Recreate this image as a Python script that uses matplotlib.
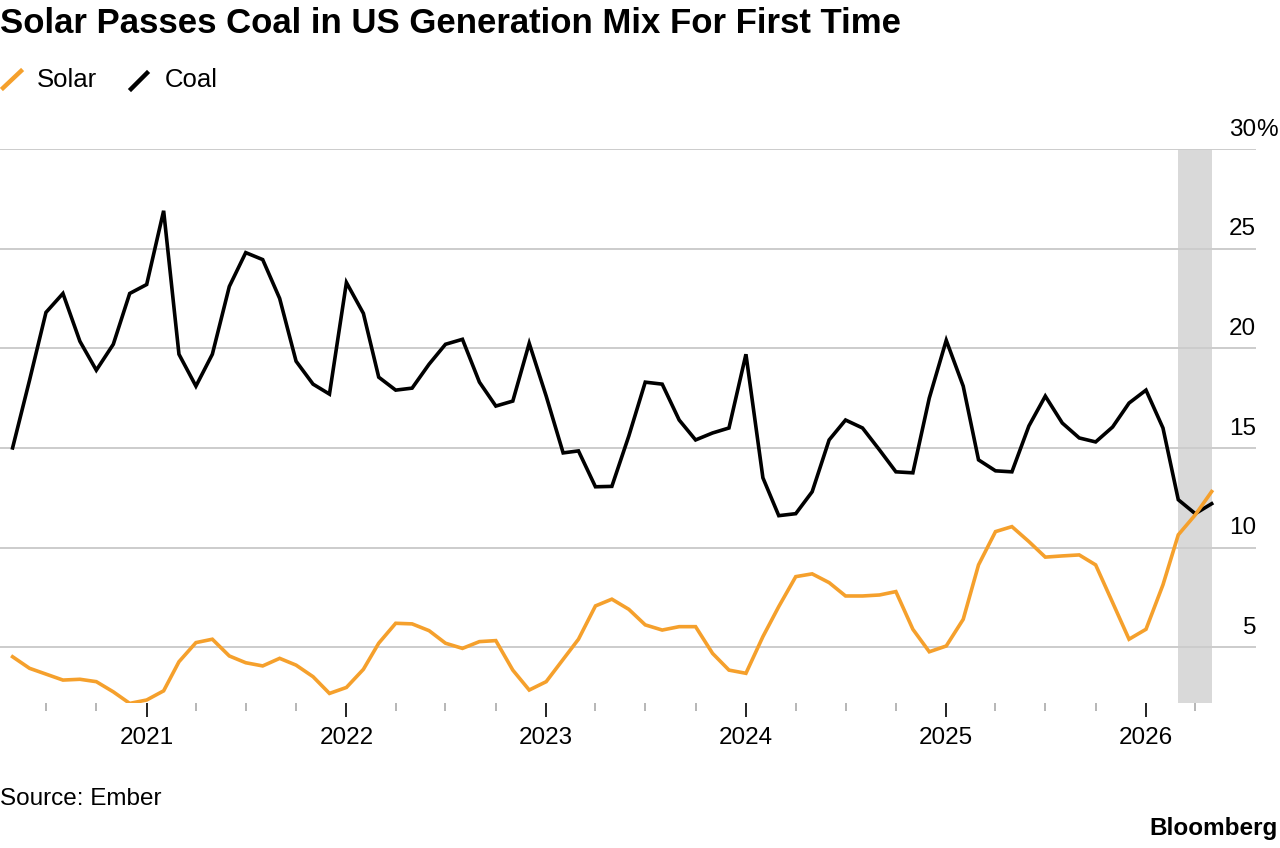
import pandas as pd
import matplotlib.pyplot as plt
import matplotlib.dates as mdates
from matplotlib.lines import Line2D
from matplotlib.ticker import FixedLocator

plt.rcParams['font.family'] = ['Liberation Sans', 'DejaVu Sans']

# monthly share of US generation (%), May 2020 .. May 2026
months = pd.date_range('2020-05-01', '2026-05-01', freq='MS')
coal = [15.0, 18.4, 21.8, 22.75, 20.35, 18.9, 20.2, 22.75, 23.2, 26.9,
        19.7, 18.1, 19.7, 23.1, 24.8, 24.45, 22.5, 19.35, 18.2, 17.7,
        23.3, 21.75, 18.55, 17.9, 18.0, 19.2, 20.2, 20.45, 18.3, 17.1,
        17.35, 20.25, 17.6, 14.75, 14.85, 13.05, 13.07, 15.6, 18.3, 18.2,
        16.4, 15.4, 15.75, 16.0, 19.7, 13.5, 11.6, 11.7, 12.8, 15.4,
        16.4, 16.0, 14.9, 13.8, 13.75, 17.5, 20.4, 18.1, 14.4, 13.85,
        13.8, 16.1, 17.6, 16.25, 15.5, 15.3, 16.05, 17.25, 17.9, 16.0,
        12.4, 11.7, 12.2]
solar = [4.52, 3.94, 3.65, 3.35, 3.39, 3.27, 2.76, 2.18, 2.35, 2.81,
         4.27, 5.23, 5.4, 4.56, 4.22, 4.06, 4.44, 4.1, 3.52, 2.68,
         2.98, 3.89, 5.2, 6.2, 6.17, 5.83, 5.2, 4.94, 5.28, 5.33,
         3.85, 2.85, 3.27, 4.39, 5.4, 7.07, 7.41, 6.9, 6.12, 5.86,
         6.03, 6.03, 4.69, 3.85, 3.69, 5.53, 7.04, 8.54, 8.68, 8.24,
         7.57, 7.57, 7.62, 7.79, 5.9, 4.77, 5.06, 6.4, 9.13, 10.8,
         11.05, 10.3, 9.52, 9.58, 9.63, 9.13, 7.24, 5.4, 5.9, 8.13,
         10.64, 11.64, 12.81]
y_ticks = [5, 10, 15, 20, 25, 30]
band = ('2026-03-01', '2026-05-01')

ORANGE = '#F5A02C'

fig = plt.figure(figsize=(12.8, 8.48), dpi=100)
ax = fig.add_axes([0.0, 0.171, 0.98125, 0.6533])

ax.axvspan(pd.Timestamp(band[0]), pd.Timestamp(band[1]), color='#d9d9d9', lw=0, zorder=0)
ax.plot(months, coal, color='black', lw=2.6, zorder=3, solid_joinstyle='miter')
ax.plot(months, solar, color=ORANGE, lw=2.6, zorder=4, solid_joinstyle='miter')

ax.set_xlim(pd.Timestamp('2020-04-08'), pd.Timestamp('2026-07-21'))
ax.set_ylim(2.2, 30)

for s in ax.spines.values():
    s.set_visible(False)

ax.set_yticks(y_ticks)
ax.yaxis.grid(True, color='#cccccc', lw=1.4, zorder=1)
ax.tick_params(axis='y', length=0, labelleft=False)

# y labels sit above the gridlines, right aligned
for v in y_ticks:
    if v == 30:
        ax.annotate('30', xy=(1, v), xycoords=('axes fraction', 'data'), xytext=(0, 9.5),
                    textcoords='offset points', ha='right', va='baseline', fontsize=17.5)
        ax.annotate('%', xy=(1, v), xycoords=('axes fraction', 'data'), xytext=(0, 9.5),
                    textcoords='offset points', ha='left', va='baseline', fontsize=17.5)
    else:
        ax.annotate(str(v), xy=(1, v), xycoords=('axes fraction', 'data'), xytext=(0, 9.5),
                    textcoords='offset points', ha='right', va='baseline', fontsize=17.5)

# quarterly minor ticks only up to the last data point
quarters = [d for d in pd.date_range('2020-07-01', '2026-04-01', freq='QS') if d.month != 1]
ax.xaxis.set_major_locator(mdates.YearLocator())
ax.xaxis.set_major_formatter(mdates.DateFormatter('%Y'))
ax.xaxis.set_minor_locator(FixedLocator(mdates.date2num(quarters)))
ax.tick_params(axis='x', which='major', length=10, width=1.2, color='black',
               labelsize=17.5, pad=7)
ax.tick_params(axis='x', which='minor', length=6, width=1.2, color='#aaaaaa')

# title, legend and footer
fig.text(0.0, 1 - 33 / 848, 'Solar Passes Coal in US Generation Mix For First Time',
         fontsize=25, fontweight='bold', va='baseline', ha='left')
fig.add_artist(Line2D([3 / 1280, 21 / 1280], [1 - 88 / 848, 1 - 71 / 848],
                      color=ORANGE, lw=3.2, transform=fig.transFigure))
fig.text(37 / 1280, 1 - 87 / 848, 'Solar', fontsize=18.5, va='baseline')
fig.add_artist(Line2D([131 / 1280, 147 / 1280], [1 - 89 / 848, 1 - 73 / 848],
                      color='black', lw=3.2, transform=fig.transFigure))
fig.text(165 / 1280, 1 - 87 / 848, 'Coal', fontsize=18.5, va='baseline')

fig.text(0.0, 1 - 805 / 848, 'Source: Ember', fontsize=17.5, va='baseline')
fig.text(0.998, 1 - 835 / 848, 'Bloomberg', fontsize=17.5, fontweight='bold',
         va='baseline', ha='right')

fig.savefig('out.png', dpi=100, facecolor='white')
